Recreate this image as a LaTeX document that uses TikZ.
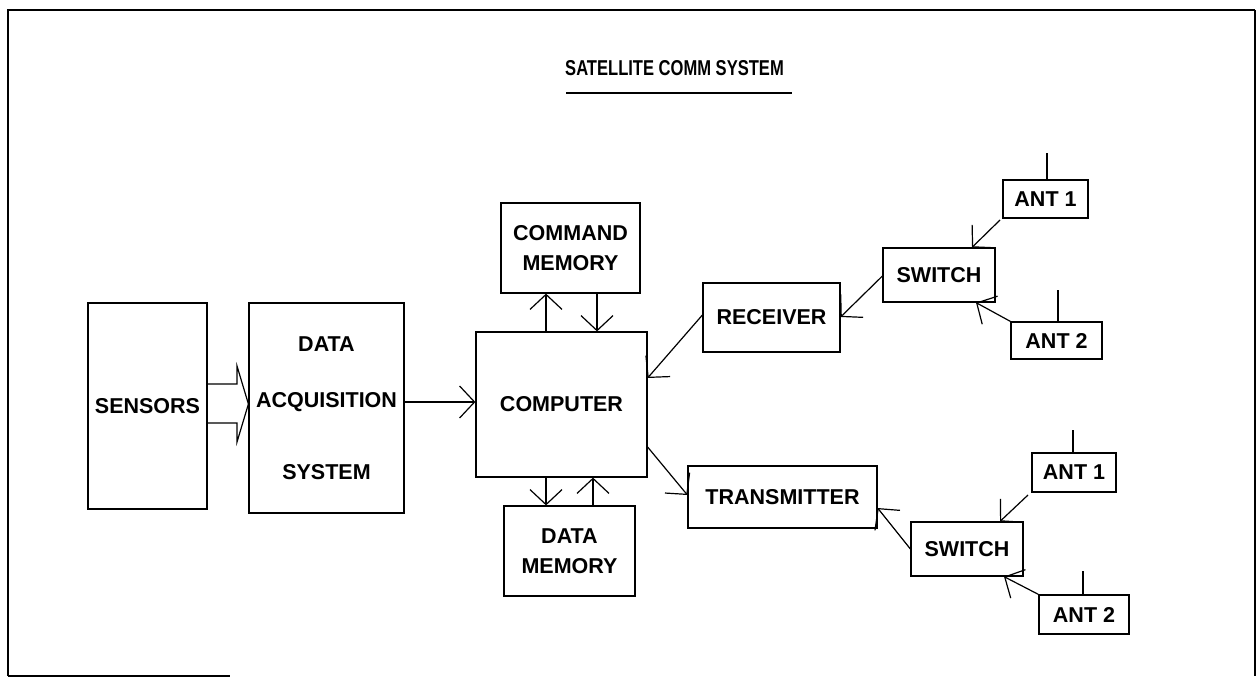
\documentclass[tikz,border=0pt]{standalone}
\usepackage{fontspec}
\setmainfont{Liberation Sans}
\newfontfamily\titlefont[FakeStretch=0.77]{Liberation Sans}
\usetikzlibrary{arrows.meta}
\begin{document}
\begin{tikzpicture}[x=1pt,y=-1pt,
  line width=1.2pt,
  blk/.style={draw, rectangle, inner sep=0pt, align=center,
    font=\bfseries\fontsize{21.5}{30}\selectfont},
  arr/.style={-{Straight Barb[length=15pt,width=32pt]}},
  frame/.style={line width=2.4pt},
]
\useasboundingbox (0,0) rectangle (1257,677);
% outer frame
\coordinate (f1) at (8,676);
\coordinate (f2) at (8,10);
\coordinate (f3) at (1255,10);
\coordinate (f4) at (1255,676);
\coordinate (f5) at (230,676);
\draw[frame] (f1) -- (f2) -- (f3);
\draw[line width=1.4pt] (f3) -- (f4);
\draw[line width=1.4pt] (f1) -- (f5);

% title
\node[font=\titlefont\bfseries\fontsize{21.5}{24}\selectfont, inner sep=0pt] (title) at (674.5,68) {SATELLITE COMM SYSTEM};
\coordinate (ul1) at (566,93);
\coordinate (ul2) at (792,93);
\draw (ul1) -- (ul2);

% blocks
\node[blk, minimum width=119pt, minimum height=206pt] (sensors) at (147.5,406) {SENSORS};
\node[blk, minimum width=155pt, minimum height=210pt] (daq) at (326.5,408) {DATA\\[26pt]ACQUISITION\\[42pt]SYSTEM};
\node[blk, minimum width=171pt, minimum height=145pt] (computer) at (561.5,404.5) {\raisebox{-5pt}{COMPUTER}};
\node[blk, minimum width=139pt, minimum height=90pt] (cmdmem) at (570.5,248) {COMMAND\\MEMORY};
\node[blk, minimum width=131pt, minimum height=90pt] (datamem) at (569.5,551) {DATA\\MEMORY};
\node[blk, minimum width=137pt, minimum height=69pt] (receiver) at (771.5,317.5) {RECEIVER};
\node[blk, minimum width=189pt, minimum height=62pt] (transmitter) at (782.5,497) {TRANSMITTER};
\node[blk, minimum width=112pt, minimum height=54pt] (sw1) at (939,275) {SWITCH};
\node[blk, minimum width=85pt, minimum height=38pt] (ant11) at (1045.5,199) {ANT 1};
\node[blk, minimum width=91pt, minimum height=37pt] (ant12) at (1056.5,340.5) {ANT 2};
\node[blk, minimum width=112pt, minimum height=54pt] (sw2) at (967,549) {SWITCH};
\node[blk, minimum width=84pt, minimum height=39pt] (ant21) at (1074,472.5) {ANT 1};
\node[blk, minimum width=90pt, minimum height=39pt] (ant22) at (1084,614.5) {ANT 2};

% antenna masts
\coordinate (m11) at (1047,153);
\coordinate (m12) at (1058,290);
\coordinate (m21) at (1073,430);
\coordinate (m22) at (1083,571);
\draw (m11) -- (m11 |- ant11.north);
\draw (m12) -- (m12 |- ant12.north);
\draw (m21) -- (m21 |- ant21.north);
\draw (m22) -- (m22 |- ant22.north);

% hollow arrow sensors -> daq
\draw (sensors.east |- 0,384) -- (237,384) -- (237,366) -- (daq.west |- 0,404)
  -- (237,442) -- (237,423) -- (sensors.east |- 0,423);

% connectors
\draw[arr] (daq.east |- 0,402) -- (computer.west |- 0,402);
\draw[arr] (computer.north -| 546,0) -- (cmdmem.south -| 546,0);
\draw[arr] (cmdmem.south -| 597,0) -- (computer.north -| 597,0);
\draw[arr] (computer.south -| 546,0) -- (datamem.north -| 546,0);
\draw[arr] (datamem.north -| 593,0) -- (computer.south -| 593,0);
\draw[arr] (receiver.west |- 0,315) -- (computer.east |- 0,378);
\draw[arr] (computer.east |- 0,447) -- (transmitter.west |- 0,495);
\draw[arr] (sw1.west |- 0,276) -- (receiver.east |- 0,317);
\draw[arr] (sw2.west |- 0,549) -- (transmitter.east |- 0,508);
\draw[arr] (1000,220) -- (sw1.north -| 972,0);
\draw[arr] (ant12.north west) -- (sw1.south -| 976,0);
\draw[arr] (1028,495) -- (sw2.north -| 1000,0);
\draw[arr] (ant22.north west) -- (sw2.south -| 1004,0);
\end{tikzpicture}
\end{document}
